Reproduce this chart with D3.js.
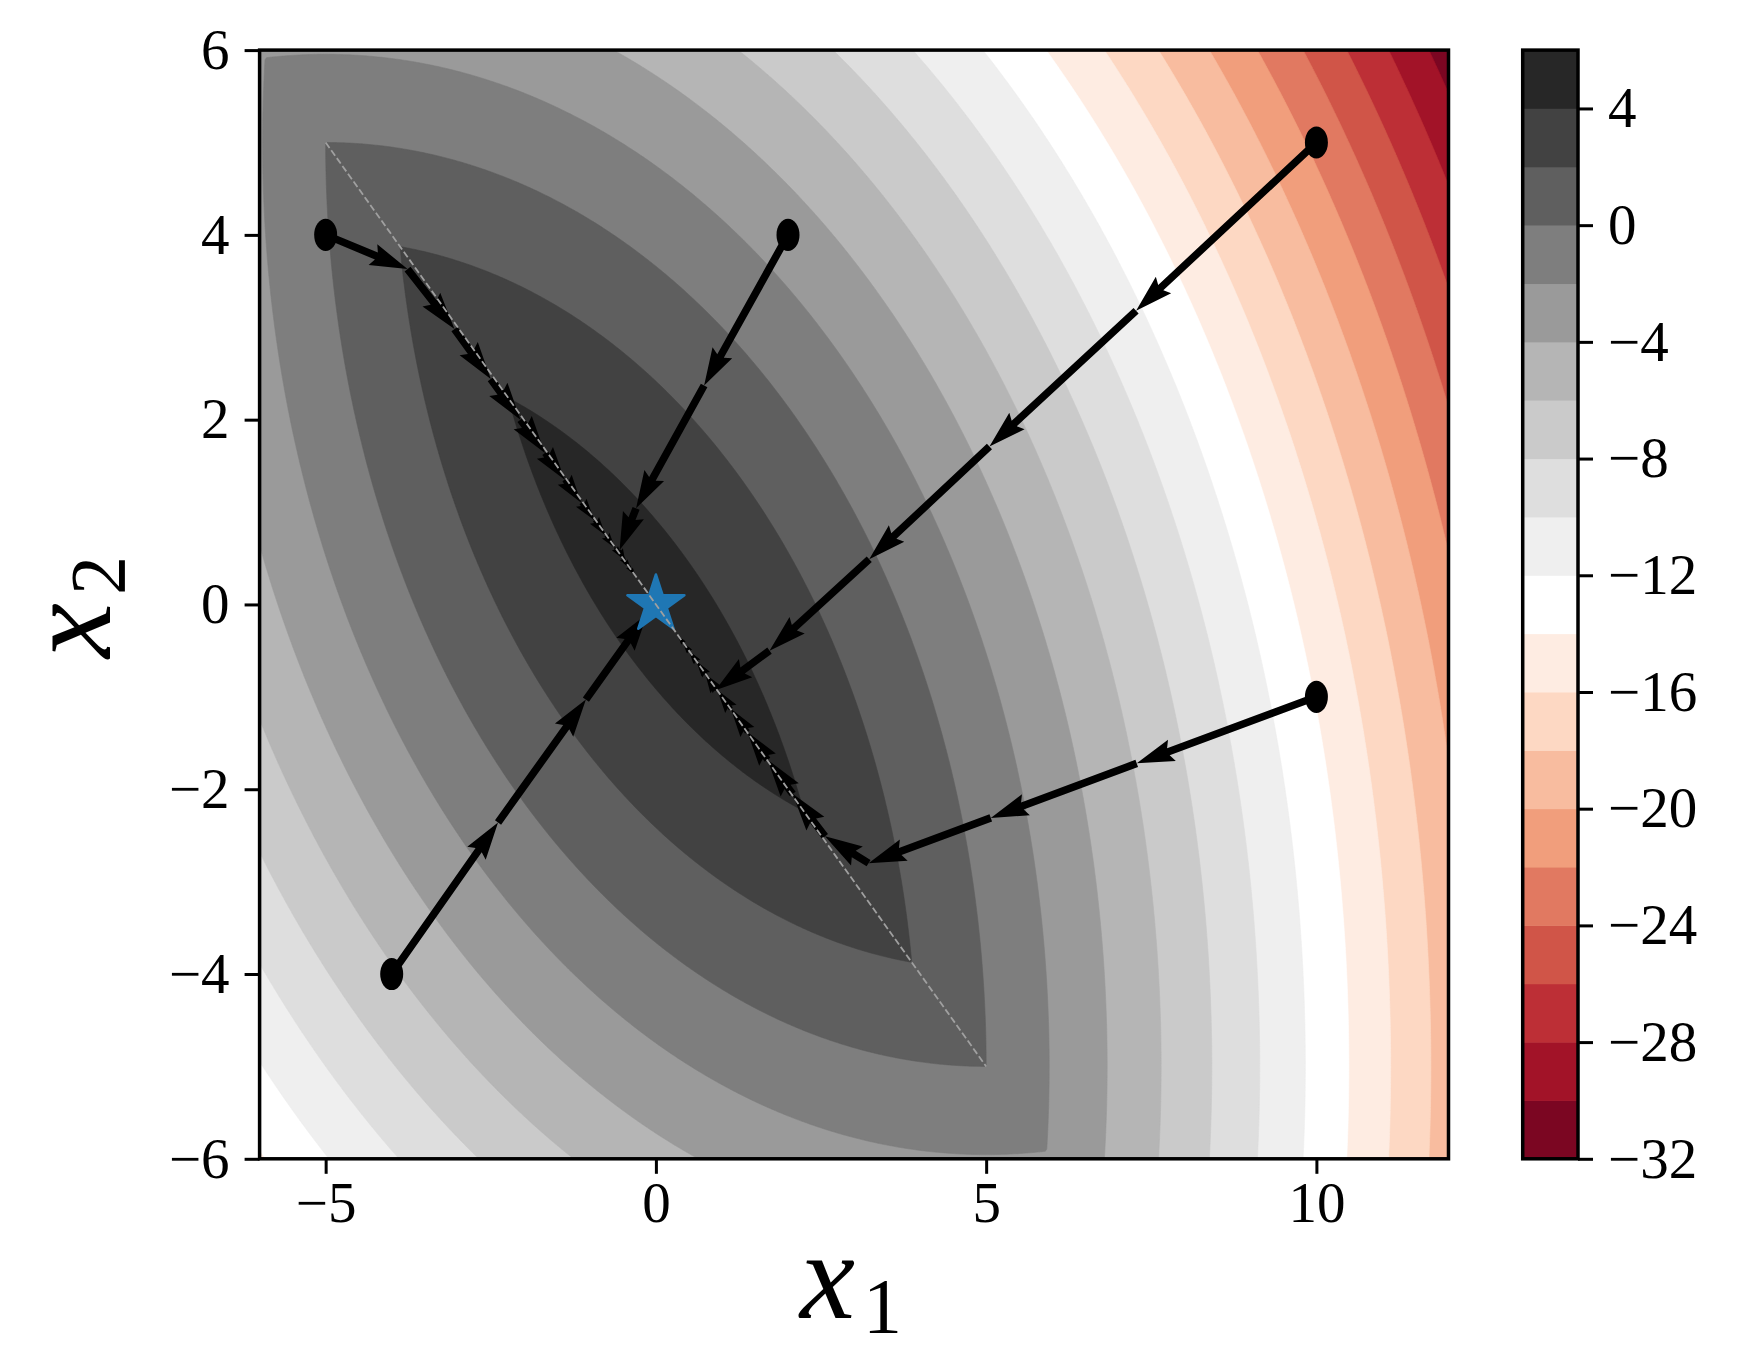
<!DOCTYPE html>
<html>
<head>
<meta charset="utf-8">
<script src="https://cdn.jsdelivr.net/npm/d3@7"></script>
<style>
  body { margin: 0; background: #fff; }
  svg { display: block; }
</style>
</head>
<body>
<svg id="chart" width="1747" height="1351"></svg>
<script>
// contour levels and ticks
const levels = d3.range(-32, 7, 2);            // -32 ... 6
const cbarTicks = [4, 0, -4, -8, -12, -16, -20, -24, -28, -32];
const xTicks = [-5, 0, 5, 10];
const yTicks = [-6, -4, -2, 0, 2, 4, 6];

// iterates, one list per starting point
const pathA = [[-5, 4], [-3.76, 3.63], [-3.05, 2.98], [-2.50, 2.44], [-2.05, 2.0], [-1.68, 1.64],
  [-1.38, 1.35], [-1.13, 1.10], [-0.93, 0.91], [-0.76, 0.745], [-0.62, 0.61], [-0.51, 0.50],
  [-0.42, 0.41], [-0.34, 0.335], [-0.28, 0.275], [-0.23, 0.225], [-0.19, 0.185], [-0.155, 0.15]];
const pathB = [[10, -1], [7.28, -1.72], [5.07, -2.31], [3.22, -2.80], [2.56, -2.51], [2.07, -2.05],
  [1.69, -1.68], [1.385, -1.38], [1.135, -1.13], [0.93, -0.925], [0.763, -0.76], [0.625, -0.623],
  [0.513, -0.51], [0.42, -0.42], [0.345, -0.343], [0.283, -0.282], [0.232, -0.231], [0.19, -0.19]];
const pathC = [[10, 5], [7.27, 3.18], [5.05, 1.71], [3.23, 0.49], [1.72, -0.50], [0.90, -0.93],
  [0.749, -0.752], [0.614, -0.617], [0.503, -0.506], [0.413, -0.415], [0.338, -0.341],
  [0.277, -0.28], [0.227, -0.23], [0.186, -0.188]];
const pathD = [[2, 4], [0.73, 2.37], [-0.30, 1.04], [-0.55, 0.59], [-0.465, 0.47], [-0.38, 0.385],
  [-0.31, 0.315], [-0.255, 0.258], [-0.21, 0.212], [-0.172, 0.174]];
const pathE = [[-4, -4], [-2.39, -2.36], [-1.06, -1.03], [-0.13, -0.10], [-0.025, -0.005]];
const paths = [pathA, pathB, pathC, pathD, pathE];

const ridge = [[-5, 5], [5, -5]];
const optimum = [0, 0];

// the plotted objective
function surface(x1, x2) {
  return 5 - (x1 * x1 + x2 * x2) / 10 - Math.abs(x1 + x2);
}

const svg = d3.select("#chart");
const x = d3.scaleLinear().domain([-6, 12]).range([259.6, 1448.5]);
const y = d3.scaleLinear().domain([-6, 6]).range([1158.8, 50.1]);

// RdGy the matplotlib way: straight segments between the 11 brewer colours
const rdgy = d3.scaleLinear()
  .domain(d3.range(11).map(i => i / 10))
  .range(d3.schemeRdGy[11])
  .interpolate(d3.interpolateRgb);
const norm = d3.scaleLinear().domain([levels[0], levels[levels.length - 1]]).range([0, 1]);
const bandColor = t => rdgy(norm(t + 1));

svg.append("defs").append("clipPath").attr("id", "plot-clip")
  .append("rect")
  .attr("x", x(-6)).attr("y", y(6))
  .attr("width", x(12) - x(-6)).attr("height", y(-6) - y(6));

// filled contours
const nx = 600, ny = 400;
const dx = 18 / nx, dy = 12 / ny;
const values = new Float64Array(nx * ny);
for (let j = 0; j < ny; ++j) {
  for (let i = 0; i < nx; ++i) {
    values[j * nx + i] = surface(-6 + (i + 0.5) * dx, 6 - (j + 0.5) * dy);
  }
}
const contours = d3.contours().size([nx, ny]).thresholds(levels.slice(0, -1))(values);
const gridToPx = d3.geoTransform({
  point(u, v) { this.stream.point(x(-6 + u * dx), y(6 - v * dy)); }
});
const contourPath = d3.geoPath(gridToPx);

const plot = svg.append("g").attr("clip-path", "url(#plot-clip)");
plot.append("g").attr("class", "contours")
  .selectAll("path")
  .data(contours)
  .join("path")
  .attr("d", contourPath)
  .attr("fill", d => bandColor(d.value))
  .attr("stroke", d => bandColor(d.value))
  .attr("stroke-width", 0.6);

// quiver-style arrows between consecutive iterates
const W = 7.5, HL = 5, HAL = 4.5, HW = 3, MINSH = 5, MINLEN = 1;
function arrowShape(L) {
  const xs0 = [0, L - HAL, L - HL, L, L - HL, L - HAL, 0];
  const ys0 = [0.5, 0.5, HW / 2, 0, -HW / 2, -0.5, -0.5];
  if (L >= MINSH) return xs0.map((v, i) => [v, ys0[i]]);
  const k = L / MINSH;
  const xs = [0, MINSH - HAL, MINSH - HL, MINSH, MINSH - HL, MINSH - HAL, 0];
  return xs.map((v, i) => [v * k, ys0[i] * k]);
}
const segments = [];
paths.forEach(p => {
  for (let k = 0; k + 1 < p.length; ++k) segments.push([p[k], p[k + 1]]);
});
const arrowLine = d3.line();
plot.append("g").attr("class", "arrows")
  .selectAll("path")
  .data(segments.filter(s => {
    const L = Math.hypot(x(s[1][0]) - x(s[0][0]), y(s[1][1]) - y(s[0][1])) / W;
    return L >= MINLEN;
  }))
  .join("path")
  .attr("d", s => {
    const x0 = x(s[0][0]), y0 = y(s[0][1]);
    const ddx = x(s[1][0]) - x0, ddy = y(s[1][1]) - y0;
    const th = Math.atan2(ddy, ddx);
    const c = Math.cos(th), sn = Math.sin(th);
    const pts = arrowShape(Math.hypot(ddx, ddy) / W)
      .map(([a, b]) => [x0 + W * (a * c - b * sn), y0 + W * (a * sn + b * c)]);
    return arrowLine(pts) + "Z";
  })
  .attr("fill", "#000");

// starting points
plot.append("g").attr("class", "starts")
  .selectAll("ellipse")
  .data(paths.map(p => p[0]))
  .join("ellipse")
  .attr("cx", d => x(d[0]))
  .attr("cy", d => y(d[1]))
  .attr("rx", x(0.174) - x(0))
  .attr("ry", y(0) - y(0.174))
  .attr("fill", "#000");

// optimum
plot.append("path")
  .attr("d", d3.symbol(d3.symbolStar, 1010)())
  .attr("transform", `translate(${x(optimum[0])},${y(optimum[1])})`)
  .attr("fill", "#1f77b4")
  .attr("stroke", "#1f77b4")
  .attr("stroke-width", 2.5)
  .attr("stroke-linejoin", "round");

// ridge
plot.append("path")
  .attr("d", d3.line().x(d => x(d[0])).y(d => y(d[1]))(ridge))
  .attr("fill", "none")
  .attr("stroke", "#a0a0a0")
  .attr("stroke-width", 1.8)
  .attr("stroke-dasharray", "6.7,2.9");

// axes
const fmt = d => d < 0 ? "\u2212" + Math.abs(d) : String(d);
const styleAxis = g => {
  g.select(".domain").remove();
  g.selectAll(".tick line").attr("stroke", "#000").attr("stroke-width", 3);
  g.selectAll(".tick text")
    .attr("fill", "#000")
    .attr("font-family", "'Liberation Serif', serif")
    .attr("font-size", 57);
};
svg.append("g")
  .attr("transform", `translate(0,${y(-6)})`)
  .call(d3.axisBottom(x).tickValues(xTicks).tickSize(15).tickPadding(8).tickFormat(fmt))
  .call(styleAxis);
svg.append("g")
  .attr("transform", `translate(${x(-6)},0)`)
  .call(d3.axisLeft(y).tickValues(yTicks).tickSize(15).tickPadding(15).tickFormat(fmt))
  .call(styleAxis);

svg.append("rect")
  .attr("x", x(-6)).attr("y", y(6))
  .attr("width", x(12) - x(-6)).attr("height", y(-6) - y(6))
  .attr("fill", "none").attr("stroke", "#000").attr("stroke-width", 3.5);

// axis labels
const xl = svg.append("text").attr("x", 800).attr("y", 1318).attr("fill", "#000");
xl.append("tspan").attr("font-family", "'Liberation Serif', serif").attr("font-style", "italic")
  .attr("font-size", 124).text("x");
xl.append("tspan").attr("font-family", "'Liberation Serif', serif").attr("font-size", 78)
  .attr("dx", 8).attr("dy", 14).text("1");

const yl = svg.append("text").attr("x", 110).attr("y", 658).attr("fill", "#000")
  .attr("transform", "rotate(-90,110,658)");
yl.append("tspan").attr("font-family", "'Liberation Serif', serif").attr("font-style", "italic")
  .attr("font-size", 124).text("x");
yl.append("tspan").attr("font-family", "'Liberation Serif', serif").attr("font-size", 78)
  .attr("dx", 8).attr("dy", 14).text("2");

// colorbar
const cbX = 1522.7, cbW = 55.3;
const c = d3.scaleLinear().domain([levels[0], levels[levels.length - 1]]).range([1158.8, 50.1]);
const cbar = svg.append("g").attr("class", "colorbar");
cbar.selectAll("rect.band")
  .data(levels.slice(0, -1))
  .join("rect")
  .attr("class", "band")
  .attr("x", cbX)
  .attr("y", d => c(d + 2))
  .attr("width", cbW)
  .attr("height", d => c(d) - c(d + 2) + 0.5)
  .attr("fill", d => bandColor(d));
cbar.append("rect")
  .attr("x", cbX).attr("y", c(6))
  .attr("width", cbW).attr("height", c(-32) - c(6))
  .attr("fill", "none").attr("stroke", "#000").attr("stroke-width", 3.5);
svg.append("g")
  .attr("transform", `translate(${cbX + cbW},0)`)
  .call(d3.axisRight(c).tickValues(cbarTicks).tickSize(15).tickPadding(15).tickFormat(fmt))
  .call(styleAxis);
</script>
</body>
</html>
